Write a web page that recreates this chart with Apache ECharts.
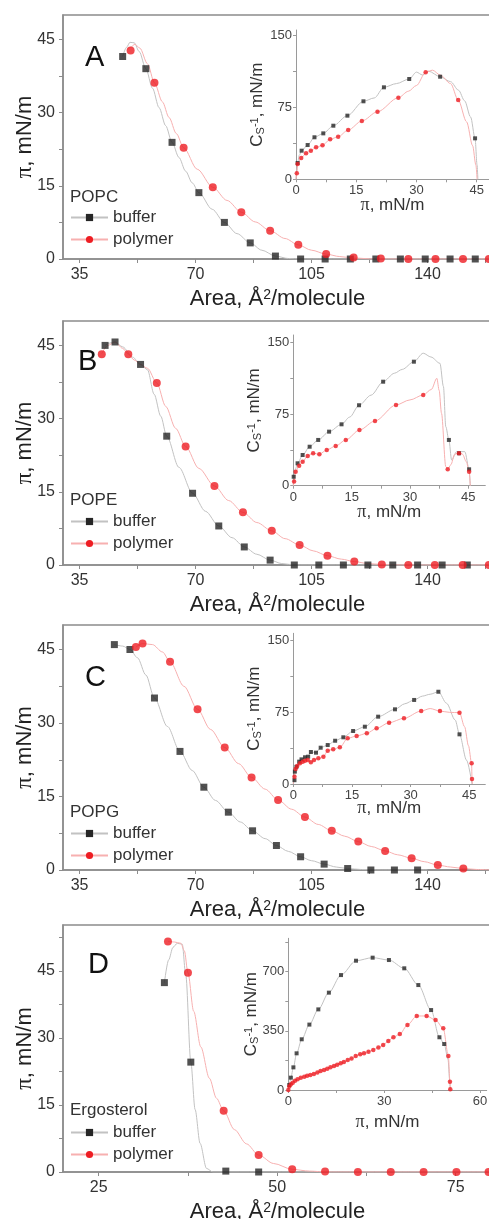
<!DOCTYPE html>
<html>
<head>
<meta charset="utf-8">
<script src="https://cdn.jsdelivr.net/npm/echarts@6/dist/echarts.min.js"></script>
<style>
  html, body { margin: 0; padding: 0; background: #fff; }
  #chart { width: 489px; height: 1219px; }
</style>
</head>
<body>
<div id="chart"></div>
<script>
// tick labels
const areaLabels = [35, 70, 105, 140];
const areaTicks = [35, 52.5, 70, 87.5, 105, 122.5, 140, 157.5];
const ergAreaLabels = [25, 50, 75];
const ergAreaTicks = [25, 37.5, 50, 62.5, 75];
const piLabels = [0, 15, 30, 45];
const piTicks = [0, 7.5, 15, 22.5, 30, 37.5, 45, 52.5];
const csLabels = [0, 75, 150];
const csTicks = [0, 37.5, 75, 112.5, 150];
const ergPiLabels = [0, 30, 60];
const ergPiTicks = [0, 15, 30, 45, 60];
const ergCsLabels = [0, 350, 700];
const ergCsTicks = [0, 175, 350, 525, 700, 875];

// A - POPC isotherms [area, pi]
const popcBufCurve = [[48,41.5],[49.2,43.4],[50.2,44.4],[51.5,44.3],[53,42.5],[55,39],[57,35],[59,31],[61,27.3],[62.9,23.9],[65,20.8],[67,18],[69,15.6],[71,13.6],[75,10.2],[78.7,7.5],[82.5,5.2],[86.5,3.3],[90,1.8],[94.1,0.6],[98,0.1],[101.7,0],[160,0]];
const popcBufPts = [[48,41.5],[55,39],[62.9,23.9],[71,13.6],[78.7,7.5],[86.5,3.3],[94.1,0.6],[101.7,0],[109.1,0],[116.7,0],[124.4,0],[131.8,0],[139.3,0],[146.8,0],[154.4,0]];
const popcPolCurve = [[49.5,42.9],[50.4,43.4],[51.7,44.0],[53.2,43.2],[55.5,40],[57.6,36.1],[60,32.2],[62,29],[64.2,25.7],[66.4,22.8],[70.5,18.4],[75.2,14.7],[79.5,12],[83.8,9.6],[88,7.6],[92.5,5.8],[97,4.2],[101,2.9],[105,1.8],[109.4,1.0],[113.5,0.5],[117.7,0.2],[124,0],[160,0]];
const popcPolPts = [[50.4,42.7],[57.6,36.1],[66.4,22.8],[75.2,14.7],[83.8,9.6],[92.5,5.8],[101,2.9],[109.4,1.0],[117.7,0.3],[125.9,0.1],[134.2,0],[142.4,0],[150.7,0],[158.5,0]];
// A inset [pi, Cs^-1]
const popcBufCs = [[0,0],[0.15,8],[0.4,17],[0.8,25],[1.4,29.9],[2.9,35.8],[4.6,43.9],[6.8,48],[9.3,56],[12.8,66.5],[16.8,81.5],[19.5,85],[21.9,96.1],[25,100],[28.2,104.8],[30,112],[31.5,109],[33,113],[35.9,107.2],[38.5,102],[40.5,93],[42,82],[43.5,65],[44.6,42.8],[45.1,15],[45.3,0]];
const popcBufCsPts = [[0.4,17],[1.4,29.9],[2.9,35.8],[4.6,43.9],[6.8,48],[9.3,56],[12.8,66.5],[16.8,81.5],[21.9,96.1],[28.2,104.8],[35.9,107.2],[44.6,42.8]];
const popcPolCs = [[0,0],[0.2,6.3],[0.4,16],[1.3,22.3],[2.5,27.2],[3.7,29.9],[5,33.4],[6.6,35.5],[8.5,41.8],[10.5,44.5],[13,51.5],[16.4,60.9],[20.3,70.6],[25.5,85.3],[28,92],[30,98],[32.3,111.8],[34,114],[35.9,109],[38.5,100],[40.4,82.9],[42.5,60],[44,35],[44.8,15],[45.1,0]];
const popcPolCsPts = [[0.2,6.3],[0.4,16],[1.3,22.3],[2.5,27.2],[3.7,29.9],[5,33.4],[6.6,35.5],[8.5,41.8],[10.5,44.5],[13,51.5],[16.4,60.9],[20.3,70.6],[25.5,85.3],[32.3,111.8],[40.4,82.9]];

// B - POPE
const popeBufCurve = [[42.7,45],[44.2,45.5],[45.7,45.7],[48,44.7],[51,42.6],[53.4,41.1],[55.5,40],[57.5,35],[59.5,30.5],[61.3,26.4],[65,20],[69.1,14.7],[73,11],[77,8.0],[81,5.6],[84.7,3.7],[88.5,2.2],[92.5,1.0],[96,0.3],[100,0],[160,0]];
const popeBufPts = [[42.7,45],[45.7,45.7],[53.4,41.1],[61.3,26.4],[69.1,14.7],[77,8.0],[84.7,3.7],[92.5,1.0],[99.8,0],[107.2,0],[114.6,0],[122,0],[129.5,0],[137,0],[144.4,0],[152,0]];
const popePolCurve = [[41.7,43.3],[43.5,45],[45.7,45.7],[48,44.4],[49.7,43.2],[51.5,42],[53.4,41.1],[55.5,40.3],[58.3,37.3],[61,32.5],[64,28],[67,24.3],[71,19.8],[75.7,16.2],[80,13.2],[84.3,10.8],[88.5,8.7],[93,7.0],[97,5.4],[101.4,4.1],[105.5,2.9],[109.8,1.9],[114,1.2],[117.9,0.7],[122,0.3],[126.2,0.1],[132,0],[160,0]];
const popePolPts = [[41.7,43.2],[49.7,43.2],[58.3,37.3],[67,24.3],[75.7,16.2],[84.3,10.8],[93,7.0],[101.4,4.1],[109.8,1.9],[117.9,0.7],[126.2,0.1],[134.2,0],[142.2,0],[150.6,0],[158.5,0]];
const popeBufCs = [[0,0],[0.1,9.4],[0.5,17],[1.1,23.5],[2.4,32.2],[4.2,40.9],[6.4,48],[9.2,56.7],[12.4,64.4],[14.5,72],[16.9,84.4],[20,95],[23.1,109.1],[26,118],[28,122],[31,130.1],[33.4,139],[35.4,135],[37.7,128.4],[38.6,104],[39.2,62],[40,48],[40.7,27],[42,35.7],[44.1,35.7],[45.2,17.2],[45.5,0]];
const popeBufCsPts = [[0.1,9.4],[1.1,23.5],[2.4,32.2],[4.2,40.9],[6.4,48],[9.2,56.7],[12.4,64.4],[16.9,84.4],[23.1,109.1],[31,130.1],[40,48],[42.6,34],[45.2,17.2]];
const popePolCs = [[0,0],[0.2,4.5],[0.6,14.7],[1.5,21],[2.4,25.2],[3.7,31.2],[5.1,34],[6.7,33],[8.6,37.5],[10.9,41.7],[13.5,48],[17,58.4],[21,67.9],[26.4,84.7],[30,90],[33.4,95.2],[35.5,101],[36.9,112.7],[37.5,100],[38.1,76],[39.2,20],[39.7,17.2],[40.5,22],[41.5,33],[42.6,34],[43.5,33],[44.5,25],[45.2,14.7],[45.5,0]];
const popePolCsPts = [[0.2,4.5],[0.6,14.7],[1.5,21],[2.4,25.2],[3.7,31.2],[5.1,34],[6.7,33],[8.6,37.5],[10.9,41.7],[13.5,48],[17,58.4],[21,67.9],[26.4,84.7],[33.4,95.2],[39.7,17.2],[42.6,34],[45.2,14.7]];

// C - POPG
const popgBufCurve = [[45.5,46.0],[48,45.7],[50.2,45.0],[52.5,43.3],[55,39.8],[57.6,35.1],[61.5,29.3],[65.3,24.2],[69,20.3],[72.5,16.9],[76,14.2],[79.9,11.8],[83.5,9.8],[87.2,8.0],[91,6.4],[94.4,5.0],[98,3.8],[101.7,2.7],[105,1.9],[108.8,1.2],[112.5,0.6],[115.9,0.3],[120,0.1],[126,0],[140,0]];
const popgBufPts = [[45.5,46.0],[50.2,45.0],[57.6,35.1],[65.3,24.2],[72.5,16.9],[79.9,11.8],[87.2,8.0],[94.4,5.0],[101.7,2.7],[108.8,1.2],[115.9,0.3],[122.9,0],[130,0],[137,0]];
const popgPolCurve = [[52,45.5],[54,46.2],[57,46.0],[60,44.5],[62.3,42.5],[66.5,37.5],[70.6,32.8],[74.5,28.7],[78.8,25.0],[83,21.7],[86.9,18.9],[91,16.5],[94.9,14.3],[99,12.4],[103,10.8],[107,9.3],[111.1,8.0],[115,6.9],[119.1,5.8],[123,4.8],[127.2,3.9],[131,3.1],[135.2,2.4],[139,1.7],[143.1,1.0],[147,0.6],[150.8,0.3],[155,0.1],[160,0]];
const popgPolPts = [[52,45.5],[54,46.2],[62.3,42.5],[70.6,32.8],[78.8,25.0],[86.9,18.9],[94.9,14.3],[103,10.8],[111.1,8.0],[119.1,5.8],[127.2,3.9],[135.2,2.4],[143.1,1.0],[150.8,0.3]];
const popgBufCs = [[0,0],[0.3,4],[0.4,13],[0.8,18],[1.5,23.4],[2.1,25.8],[3,28],[3.8,28.6],[4.5,33.5],[5.8,32.8],[7,38],[8.8,40.8],[10.7,45.3],[12.8,48.9],[15.3,55.5],[18.3,60],[21.7,70.5],[26,78.2],[28.5,84],[30.9,88],[33,92],[35,94],[37.1,96.6],[39.2,84.5],[41.4,67],[42.5,52],[44.3,25],[45.7,0]];
const popgBufCsPts = [[0.3,4],[0.4,13],[0.8,18],[1.5,23.4],[2.1,25.8],[3,28],[3.8,28.6],[4.5,33.5],[5.8,32.8],[7,38],[8.8,40.8],[10.7,45.3],[12.8,48.9],[15.3,55.5],[18.3,60],[21.7,70.5],[26,78.2],[30.9,88],[37.1,96.6],[42.5,52]];
const popgPolCs = [[0,0],[0.3,7.7],[0.6,15.7],[1,18.8],[1.7,21.6],[2.4,23.4],[3,24.4],[3.7,25.1],[4.5,22.7],[5.3,25.1],[6.4,26.9],[7.7,28.6],[8.8,34.9],[10.2,36.3],[11.9,38.4],[13.9,47.8],[16.2,50.3],[18.8,53.1],[21.3,58.3],[24.5,64.2],[28.3,68.8],[32.7,76.4],[35,79],[37.5,76.4],[40,75],[42.5,74.7],[43.8,60],[44.8,40],[45.6,21.7],[45.7,5.2],[45.8,0]];
const popgPolCsPts = [[0.3,7.7],[0.6,15.7],[1,18.8],[1.7,21.6],[2.4,23.4],[3,24.4],[3.7,25.1],[4.5,22.7],[5.3,25.1],[6.4,26.9],[7.7,28.6],[8.8,34.9],[10.2,36.3],[11.9,38.4],[13.9,47.8],[16.2,50.3],[18.8,53.1],[21.3,58.3],[24.5,64.2],[28.3,68.8],[32.7,76.4],[37.5,76.4],[42.5,74.7],[45.6,21.7],[45.7,5.2]];

// D - Ergosterol
const ergBufCurve = [[34.2,42.4],[34.8,47.5],[35.4,50.3],[36,51.2],[36.7,51],[37.2,44],[37.9,24.6],[38.5,14],[39.2,6.4],[40.1,0.8],[41,0],[80.5,0]];
const ergBufPts = [[34.2,42.4],[37.9,24.6],[42.8,0.2],[47.4,0]];
const ergPolCurve = [[34.7,51.6],[35.6,51.5],[36.5,51.2],[37,49.5],[37.5,44.6],[38.3,36],[39.3,28],[40.5,21],[41.5,16.5],[42.5,13.7],[44,9.5],[45.7,6.3],[47.4,3.8],[49.5,1.9],[52.1,0.6],[54.5,0.2],[57,0],[80.5,0]];
const ergPolPts = [[34.7,51.6],[37.5,44.6],[42.5,13.7],[47.4,3.8],[52.1,0.6],[56.7,0.1],[61.3,0],[65.9,0],[70.5,0],[75.1,0],[79.6,0]];
const ergBufCs = [[0,0],[0.3,29.6],[0.8,73],[1.6,134],[2.6,217],[4.2,300],[6.6,387],[9.4,477],[12.7,576],[16.5,680],[21.2,765],[26.4,783],[31.5,769],[36.3,720],[40.7,621],[44.7,473],[47.3,312],[48.8,272],[50,180],[50.5,60],[50.7,0]];
const ergBufCsPts = [[0.3,29.6],[0.8,73],[1.6,134],[2.6,217],[4.2,300],[6.6,387],[9.4,477],[12.7,576],[16.5,680],[21.2,765],[26.4,783],[31.5,769],[36.3,720],[40.7,621],[44.7,473],[47.3,312],[48.8,272]];
const ergPolCs = [[0,0],[0.3,20],[0.8,34],[1.4,43],[2.1,55],[2.9,63],[3.9,73],[5,79],[5.9,85],[6.9,89],[8,95],[9.1,103],[10.1,112],[11.2,118],[12.2,126],[13.2,134],[14.3,142],[15.3,150],[16.4,158],[17.4,166],[18.6,178],[19.8,187],[21.1,201],[22.5,211],[23.7,217],[25.1,227],[26.6,237],[28.2,252],[29.7,266],[31.3,290],[32.9,312],[34.9,331],[37.3,385],[40.2,438],[43.3,438],[46.1,414],[48.5,365],[50.1,201],[50.6,49],[50.7,4]];

const FONT = 'Liberation Sans';
const BLACK = '#262626', RED = '#ee1d23';
const GRAYLINE = '#c2c2c2', PINKLINE = '#f7b0b0';

const panels = [
  { letter: 'A', lipid: 'POPC', top: 15, h: 244, xMin: 30, xMax: 159.45, yMax: 50,
    xLabels: areaLabels, xTicks: areaTicks,
    bufCurve: popcBufCurve, bufPts: popcBufPts, polCurve: popcPolCurve, polPts: popcPolPts,
    inset: { left: 296, top: 30, w: 193, h: 149.3, xMax: 48.07, yMax: 156, nameGap: 17, yGap: 30,
      xL: piLabels, xT: piTicks, yL: csLabels, yT: csTicks },
    bufCs: popcBufCs, bufCsPts: popcBufCsPts, polCs: popcPolCs, polCsPts: popcPolCsPts,
    letterPos: [85, 43], lipidTop: 189, legendTop: 209 },
  { letter: 'B', lipid: 'POPE', top: 321, h: 244, xMin: 30, xMax: 159.45, yMax: 50,
    xLabels: areaLabels, xTicks: areaTicks,
    bufCurve: popeBufCurve, bufPts: popeBufPts, polCurve: popePolCurve, polPts: popePolPts,
    inset: { left: 293.3, top: 335, w: 192, h: 150.7, xMax: 49.36, yMax: 158.1, nameGap: 18, yGap: 30,
      xL: piLabels, xT: piTicks, yL: csLabels, yT: csTicks },
    bufCs: popeBufCs, bufCsPts: popeBufCsPts, polCs: popePolCs, polCsPts: popePolCsPts,
    letterPos: [78, 347], lipidTop: 492, legendTop: 513 },
  { letter: 'C', lipid: 'POPG', top: 625, h: 245, xMin: 30, xMax: 159.45, yMax: 50,
    xLabels: areaLabels, xTicks: areaTicks,
    bufCurve: popgBufCurve, bufPts: popgBufPts, polCurve: popgPolCurve, polPts: popgPolPts,
    inset: { left: 293.3, top: 633.3, w: 192, h: 150.7, xMax: 49.1, yMax: 157.8, nameGap: 15, yGap: 30,
      xL: piLabels, xT: piTicks, yL: csLabels, yT: csTicks },
    bufCs: popgBufCs, bufCsPts: popgBufCsPts, polCs: popgPolCs, polCsPts: popgPolCsPts,
    letterPos: [85, 663], lipidTop: 804, legendTop: 825 },
  { letter: 'D', lipid: 'Ergosterol', top: 925, h: 247, xMin: 20, xMax: 80.08, yMax: 55.3,
    xLabels: ergAreaLabels, xTicks: ergAreaTicks,
    bufCurve: ergBufCurve, bufPts: ergBufPts, polCurve: ergPolCurve, polPts: ergPolPts,
    inset: { left: 288.3, top: 938.3, w: 198.4, h: 151.7, xMax: 62.1, yMax: 897.6, nameGap: 23, yGap: 28,
      xL: ergPiLabels, xT: ergPiTicks, yL: ergCsLabels, yT: ergCsTicks },
    bufCs: ergBufCs, bufCsPts: ergBufCsPts, polCs: ergPolCs, polCsPts: ergPolCs,
    letterPos: [88, 950], lipidTop: 1102, legendTop: 1124 }
];

const grid = [], xAxis = [], yAxis = [], series = [], title = [], legend = [];

function lineSeries(name, g, data, color, dotColor, sym) {
  return { name: name, type: 'line', xAxisIndex: g, yAxisIndex: g, data: data,
    smooth: 0.3, smoothMonotone: 'x', showSymbol: false, symbol: sym, silent: true,
    lineStyle: { color: color, width: 1 }, itemStyle: { color: dotColor }, z: 2, animation: false };
}
function dotSeries(name, g, data, color, sym, size) {
  return { name: name, type: 'scatter', xAxisIndex: g, yAxisIndex: g, data: data,
    symbol: sym, symbolSize: size, itemStyle: { color: color }, z: 3, silent: true, animation: false };
}

panels.forEach(function (p, i) {
  const gm = 2 * i, gi = 2 * i + 1;
  grid.push({ left: 63, top: p.top, width: 429, height: p.h, show: true, borderColor: '#8c8c8c',
    borderWidth: 1.5, containLabel: false, outerBoundsMode: 'none' });
  grid.push({ left: p.inset.left, top: p.inset.top, width: p.inset.w, height: p.inset.h,
    containLabel: false, outerBoundsMode: 'none' });

  xAxis.push({ type: 'value', gridIndex: gm, min: p.xMin, max: p.xMax, splitLine: { show: false },
    axisLine: { onZero: false, lineStyle: { color: '#8c8c8c', width: 1.5 } },
    axisTick: { length: 4, customValues: p.xTicks, lineStyle: { color: '#8c8c8c' } },
    axisLabel: { customValues: p.xLabels, margin: 8, fontSize: 16, color: '#333', fontFamily: FONT },
    name: 'Area, Å{sup|2}/molecule', nameLocation: 'middle', nameGap: 29, nameMoveOverlap: false,
    nameTextStyle: { fontSize: 22, color: '#222', fontFamily: FONT,
      rich: { sup: { fontSize: 14, verticalAlign: 'top', color: '#222', fontFamily: FONT } } } });
  yAxis.push({ type: 'value', gridIndex: gm, min: 0, max: p.yMax, splitLine: { show: false },
    axisLine: { onZero: false, lineStyle: { color: '#8c8c8c', width: 1.5 } },
    axisTick: { length: 4, customValues: piTicks, lineStyle: { color: '#8c8c8c' } },
    axisLabel: { customValues: piLabels, margin: 8, fontSize: 16, color: '#333', fontFamily: FONT },
    name: '{p|π}, mN/m', nameLocation: 'middle', nameGap: 27, nameMoveOverlap: false,
    nameTextStyle: { fontSize: 22, color: '#222', fontFamily: FONT,
      rich: { p: { fontSize: 23, fontFamily: 'Liberation Serif', color: '#222' } } } });

  xAxis.push({ type: 'value', gridIndex: gi, min: 0, max: p.inset.xMax, splitLine: { show: false },
    axisLine: { onZero: false, lineStyle: { color: '#9a9a9a', width: 1 } },
    axisTick: { length: 3, customValues: p.inset.xT, lineStyle: { color: '#9a9a9a' } },
    axisLabel: { customValues: p.inset.xL, margin: 5, fontSize: 13, color: '#444', fontFamily: FONT },
    name: '{p|π}, mN/m', nameLocation: 'middle', nameGap: p.inset.nameGap, nameMoveOverlap: false,
    nameTextStyle: { fontSize: 17, color: '#333', fontFamily: FONT,
      rich: { p: { fontSize: 18, fontFamily: 'Liberation Serif', color: '#333' } } } });
  yAxis.push({ type: 'value', gridIndex: gi, min: 0, max: p.inset.yMax, splitLine: { show: false },
    axisLine: { onZero: false, lineStyle: { color: '#9a9a9a', width: 1 } },
    axisTick: { length: 3, customValues: p.inset.yT, lineStyle: { color: '#9a9a9a' } },
    axisLabel: { customValues: p.inset.yL, margin: 4, fontSize: 13, color: '#444', fontFamily: FONT },
    name: 'C{sub|S}{sup|-1}, mN/m', nameLocation: 'middle', nameGap: p.inset.yGap, nameMoveOverlap: false,
    nameTextStyle: { fontSize: 17, color: '#333', fontFamily: FONT,
      rich: { sub: { fontSize: 11, verticalAlign: 'bottom', color: '#333', fontFamily: FONT },
              sup: { fontSize: 11, verticalAlign: 'top', color: '#333', fontFamily: FONT } } } });

  // main isotherms
  series.push(lineSeries('buffer', gm, p.bufCurve, GRAYLINE, BLACK, 'rect'));
  series.push(lineSeries('polymer', gm, p.polCurve, PINKLINE, RED, 'circle'));
  series.push(dotSeries('buffer pts', gm, p.bufPts, BLACK, 'rect', 7));
  series.push(dotSeries('polymer pts', gm, p.polPts, RED, 'circle', 8));
  // inset compressibility
  series.push(lineSeries('buffer cs', gi, p.bufCs, GRAYLINE, BLACK, 'rect'));
  series.push(lineSeries('polymer cs', gi, p.polCs, PINKLINE, RED, 'circle'));
  series.push(dotSeries('buffer cs pts', gi, p.bufCsPts, BLACK, 'rect', 4));
  series.push(dotSeries('polymer cs pts', gi, p.polCsPts, RED, 'circle', 4.5));

  title.push({ text: p.letter, left: p.letterPos[0], top: p.letterPos[1], padding: 0,
    textStyle: { fontSize: 29, fontWeight: 'normal', color: '#111', fontFamily: FONT } });
  title.push({ text: p.lipid, left: 70, top: p.lipidTop, padding: 0,
    textStyle: { fontSize: 17, fontWeight: 'normal', color: '#333', fontFamily: FONT } });
  legend.push({ left: 70, top: p.legendTop, orient: 'vertical', padding: 0, itemGap: 5,
    itemWidth: 37, itemHeight: 9, selectedMode: false, data: ['buffer', 'polymer'],
    textStyle: { fontSize: 17, color: '#333', fontFamily: FONT } });
});

const chart = echarts.init(document.getElementById('chart'));
chart.setOption({
  backgroundColor: '#fff',
  animation: false,
  title: title,
  legend: legend,
  grid: grid,
  xAxis: xAxis,
  yAxis: yAxis,
  series: series
});
</script>
</body>
</html>
